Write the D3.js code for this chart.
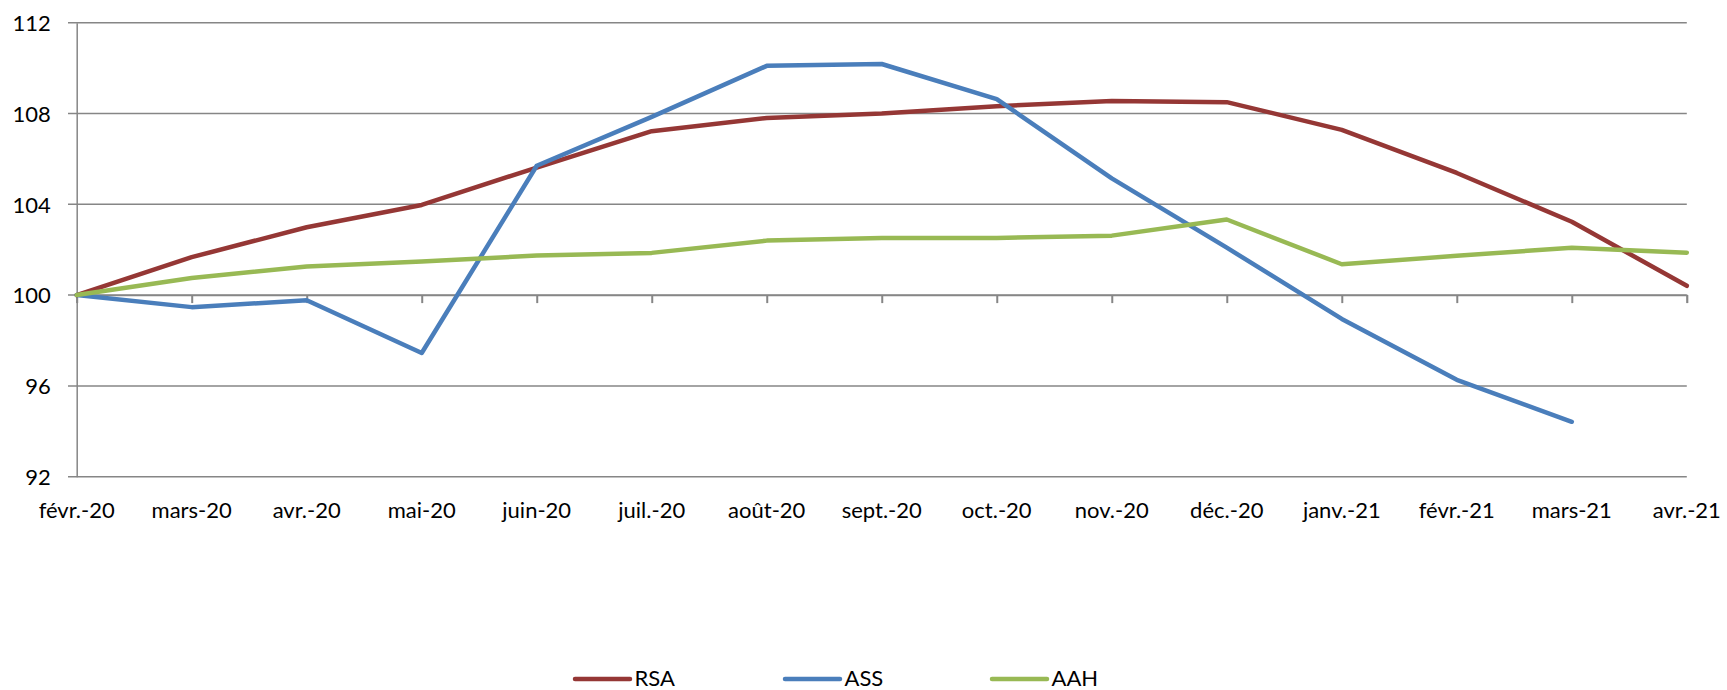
<!DOCTYPE html>
<html>
<head>
<meta charset="utf-8">
<script src="https://cdn.jsdelivr.net/npm/d3@7"></script>
<style>
html,body{margin:0;padding:0;background:#fff;}
svg{display:block;}
text{font-family:Lato,"Noto Sans",sans-serif;fill:#000;}
</style>
</head>
<body>
<svg id="chart" width="1727" height="690"></svg>
<script>
const categories = ["févr.-20","mars-20","avr.-20","mai-20","juin-20","juil.-20","août-20","sept.-20","oct.-20","nov.-20","déc.-20","janv.-21","févr.-21","mars-21","avr.-21"];
const rsa = [100, 101.67, 102.99, 103.97, 105.62, 107.22, 107.8, 108.0, 108.32, 108.55, 108.5, 107.28, 105.38, 103.23, 100.41];
const ass = [100, 99.47, 99.77, 97.45, 105.7, 107.85, 110.1, 110.18, 108.63, 105.14, 102.09, 98.95, 96.27, 94.42, null];
const aah = [100, 100.75, 101.26, 101.48, 101.74, 101.86, 102.4, 102.52, 102.52, 102.62, 103.33, 101.36, 101.73, 102.09, 101.87];
const yTicks = [92, 96, 100, 104, 108, 112];
const seriesNames = ["RSA", "ASS", "AAH"];
const seriesColors = ["#953735", "#4a7ebb", "#98b954"];

const series = [rsa, ass, aah].map((vals, i) => ({name: seriesNames[i], color: seriesColors[i], values: vals}));

const svg = d3.select("#chart");
const x = d3.scalePoint().domain(categories).range([76.7, 1686.8]);
const y = d3.scaleLinear().domain([92, 112]).range([476.7, 22.7]);
const grid = "#868686";

// gridlines
svg.append("g").selectAll("line").data(yTicks).join("line")
  .attr("x1", 68).attr("x2", 1686.8)
  .attr("y1", d => y(d)).attr("y2", d => y(d))
  .attr("stroke", grid).attr("stroke-width", 1.5);

// left axis
const yAxis = d3.axisLeft(y).tickValues(yTicks).tickSize(0).tickPadding(0).tickFormat(d3.format("d"));
const gy = svg.append("g").attr("transform", "translate(76.7,0)").call(yAxis);
gy.select(".domain").attr("stroke", grid).attr("stroke-width", 1.5);
gy.selectAll("text").attr("x", -26).attr("font-size", 22).attr("dy", "0.35em")
  .style("font-family", "Lato,'Noto Sans',sans-serif");

// category axis at 100
const xAxis = d3.axisBottom(x).tickSize(8).tickFormat("");
const gx = svg.append("g").attr("transform", `translate(0,${y(100)})`).call(xAxis);
gx.select(".domain").attr("stroke", grid).attr("stroke-width", 1.5);
gx.selectAll(".tick line").attr("stroke", grid).attr("stroke-width", 2);

// category labels below plot
svg.append("g").selectAll("text").data(categories).join("text")
  .attr("x", d => x(d)).attr("y", 518.3)
  .attr("text-anchor", "middle").attr("font-size", 22)
  .text(d => d);

// lines
const line = d3.line()
  .defined(d => d.v !== null)
  .x(d => x(d.c)).y(d => y(d.v));

svg.append("g").selectAll("path").data(series).join("path")
  .attr("d", s => line(s.values.map((v, i) => ({c: categories[i], v}))))
  .attr("fill", "none").attr("stroke", s => s.color)
  .attr("stroke-width", 4.5).attr("stroke-linejoin", "round").attr("stroke-linecap", "round");

// legend
const legX = [575, 785, 992];
const lg = svg.append("g").selectAll("g").data(series).join("g")
  .attr("transform", (d, i) => `translate(${legX[i]},679)`);
lg.append("line").attr("x1", 0).attr("x2", 55).attr("y1", 0).attr("y2", 0)
  .attr("stroke", d => d.color).attr("stroke-width", 4.5).attr("stroke-linecap", "round");
lg.append("text").attr("x", 59.5).attr("y", 7).attr("font-size", 22).text(d => d.name);
</script>
</body>
</html>
